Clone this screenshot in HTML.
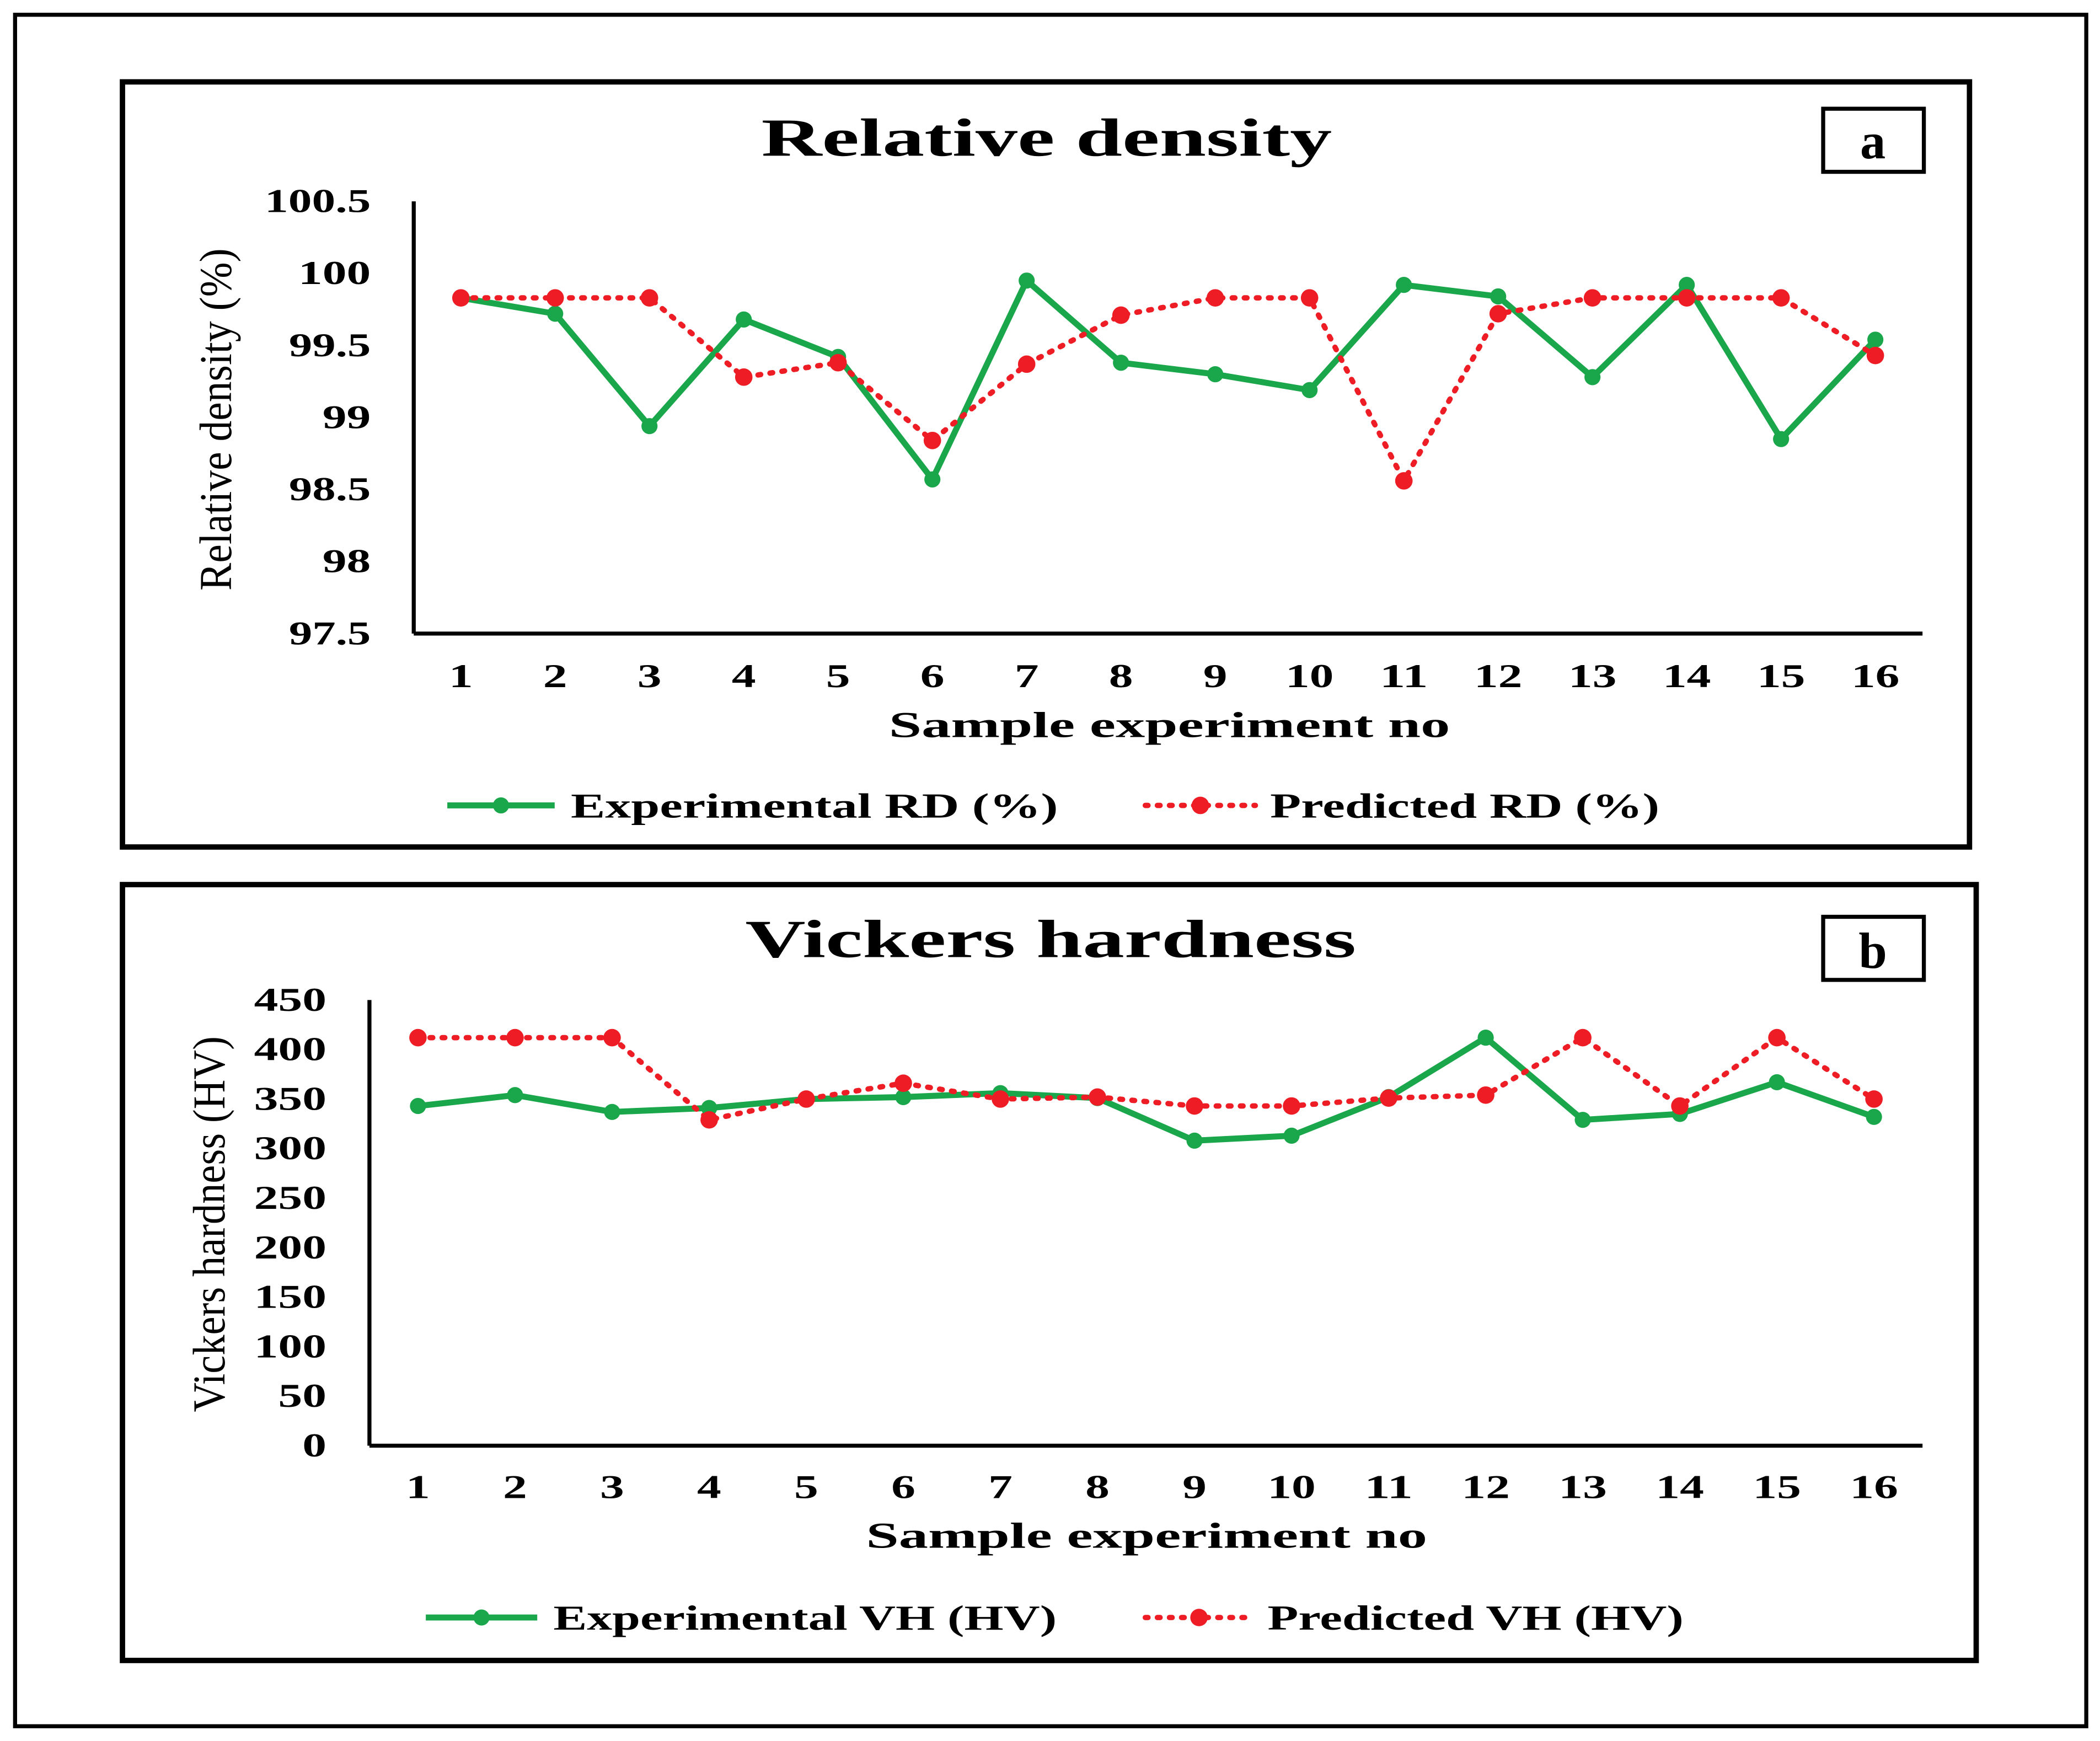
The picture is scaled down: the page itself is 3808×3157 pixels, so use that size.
<!DOCTYPE html>
<html><head><meta charset="utf-8">
<style>
html,body{margin:0;padding:0;background:#fff;}
svg{display:block;}
text{font-family:"Liberation Serif",serif;font-weight:bold;fill:#000;}
</style></head>
<body>
<svg id="fig" width="3808" height="3157" viewBox="0 0 1564 1297" xmlns="http://www.w3.org/2000/svg">
<rect x="11" y="11" width="1543" height="1275" fill="none" stroke="#000" stroke-width="3"/>
<g id="pa">
<rect x="91" y="61" width="1376" height="570" fill="none" stroke="#000" stroke-width="4"/>
<text x="567" y="116" font-size="40" textLength="425" lengthAdjust="spacingAndGlyphs">Relative density</text>
<rect x="1358" y="81" width="75" height="47" fill="#fff" stroke="#000" stroke-width="3"/>
<text x="1395" y="118" font-size="38" text-anchor="middle">a</text>
<text transform="translate(172,440) rotate(-90)" font-size="34" textLength="255" lengthAdjust="spacingAndGlyphs" style="font-weight:normal">Relative density (%)</text>
<text x="662" y="549" font-size="27" textLength="418" lengthAdjust="spacingAndGlyphs">Sample experiment no</text>
</g>
<g id="pb">
<rect x="91" y="659" width="1381" height="578" fill="none" stroke="#000" stroke-width="4"/>
<text x="555" y="713" font-size="40" textLength="455" lengthAdjust="spacingAndGlyphs">Vickers hardness</text>
<rect x="1358" y="683" width="75" height="47" fill="#fff" stroke="#000" stroke-width="3"/>
<text x="1395" y="721" font-size="38" text-anchor="middle">b</text>
<text transform="translate(167,1052) rotate(-90)" font-size="34" textLength="280" lengthAdjust="spacingAndGlyphs" style="font-weight:normal">Vickers hardness (HV)</text>
<text x="645" y="1153" font-size="27" textLength="418" lengthAdjust="spacingAndGlyphs">Sample experiment no</text>
</g>
</svg>
<script>
const categories = ["1","2","3","4","5","6","7","8","9","10","11","12","13","14","15","16"];
const expRD = [99.83,99.72,98.94,99.68,99.42,98.57,99.95,99.38,99.30,99.19,99.92,99.84,99.28,99.92,98.85,99.54];
const predRD = [99.83,99.83,99.83,99.28,99.38,98.84,99.37,99.71,99.83,99.83,98.56,99.72,99.83,99.83,99.83,99.43];
const rdTicks = ["97.5","98","98.5","99","99.5","100","100.5"];
const expVH = [343,354,337,341,350,352,356,351,308,313,352,412,329,335,367,332];
const predVH = [412,412,412,329,350,366,350,352,343,343,351,354,412,343,412,350];
const vhTicks = ["0","50","100","150","200","250","300","350","400","450"];

const NS="http://www.w3.org/2000/svg";
function mk(parent,tag,attrs){const e=document.createElementNS(NS,tag);for(const k in attrs)e.setAttribute(k,attrs[k]);parent.appendChild(e);return e;}
function tw(s){let w=0;for(const ch of s)w+=(ch==='.')?7:18;return w;}

function drawChart(g,cfg){
  const {x0,x1,yTop,yBot,vmin,vmax,ticks,exp,pred,key,legY,legG,legR,legTextG,legTextR,legWG,legWR,labY}=cfg;
  const n=categories.length, bw=(x1-x0)/n;
  const xs=i=>x0+bw*(i+0.5);
  const ys=v=>yBot-(v-vmin)/(vmax-vmin)*(yBot-yTop);
  let e=mk(g,'line',{x1:x0,y1:yTop,x2:x0,y2:yBot,stroke:'#000','stroke-width':3});
  
  e=mk(g,'line',{x1:x0,y1:yBot,x2:x1,y2:yBot,stroke:'#000','stroke-width':3});
  
  ticks.forEach(t=>{
    const el=mk(g,'text',{x:x0-32,y:ys(parseFloat(t))+8,'font-size':25,'text-anchor':'end',textLength:tw(t),lengthAdjust:'spacingAndGlyphs'});
    el.textContent=t;
    
    
  });
  categories.forEach((c,i)=>{
    const el=mk(g,'text',{x:xs(i),y:labY,'font-size':25,'text-anchor':'middle',textLength:tw(c),lengthAdjust:'spacingAndGlyphs'});
    el.textContent=c;
    
    
  });
  let pts=exp.map((v,i)=>xs(i)+','+ys(v)).join(' ');
  e=mk(g,'polyline',{points:pts,fill:'none',stroke:'#1aa64a','stroke-width':4.5,'stroke-linejoin':'round'});
  
  pts=pred.map((v,i)=>xs(i)+','+ys(v)).join(' ');
  e=mk(g,'polyline',{points:pts,fill:'none',stroke:'#ee1c24','stroke-width':4,'stroke-dasharray':'2 7','stroke-linecap':'round'});
  
  exp.forEach((v,i)=>{
    const c=mk(g,'circle',{cx:xs(i),cy:ys(v),r:6,fill:'#1aa64a'});
    
    
  });
  pred.forEach((v,i)=>{
    const c=mk(g,'circle',{cx:xs(i),cy:ys(v),r:6.5,fill:'#ee1c24'});
    
    
  });
  e=mk(g,'line',{x1:legG[0],y1:legY,x2:legG[1],y2:legY,stroke:'#1aa64a','stroke-width':4.5});
  
  mk(g,'circle',{cx:(legG[0]+legG[1])/2,cy:legY,r:6,fill:'#1aa64a'});
  e=mk(g,'text',{x:legG[1]+12,y:legY+9,'font-size':26,textLength:legWG,lengthAdjust:'spacingAndGlyphs'});
  e.textContent=legTextG;
  
  e=mk(g,'line',{x1:legR[0],y1:legY,x2:legR[1],y2:legY,stroke:'#ee1c24','stroke-width':4,'stroke-dasharray':'2 7','stroke-linecap':'round'});
  
  mk(g,'circle',{cx:(legR[0]+legR[1])/2,cy:legY,r:6.5,fill:'#ee1c24'});
  e=mk(g,'text',{x:legR[1]+11,y:legY+9,'font-size':26,textLength:legWR,lengthAdjust:'spacingAndGlyphs'});
  e.textContent=legTextR;
  
}
drawChart(document.getElementById('pa'),{x0:308,x1:1432,yTop:150,yBot:472,vmin:97.5,vmax:100.5,ticks:rdTicks,exp:expRD,pred:predRD,key:'a',legY:600,legG:[333,413],legR:[853,935],legTextG:'Experimental  RD (%)',legTextR:'Predicted RD (%)',legWG:363,legWR:290,labY:512});
drawChart(document.getElementById('pb'),{x0:275,x1:1432,yTop:745,yBot:1077,vmin:0,vmax:450,ticks:vhTicks,exp:expVH,pred:predVH,key:'b',legY:1205,legG:[317,400],legR:[853,933],legTextG:'Experimental VH (HV)',legTextR:'Predicted VH (HV)',legWG:375,legWR:310,labY:1116});
</script>
</body></html>
